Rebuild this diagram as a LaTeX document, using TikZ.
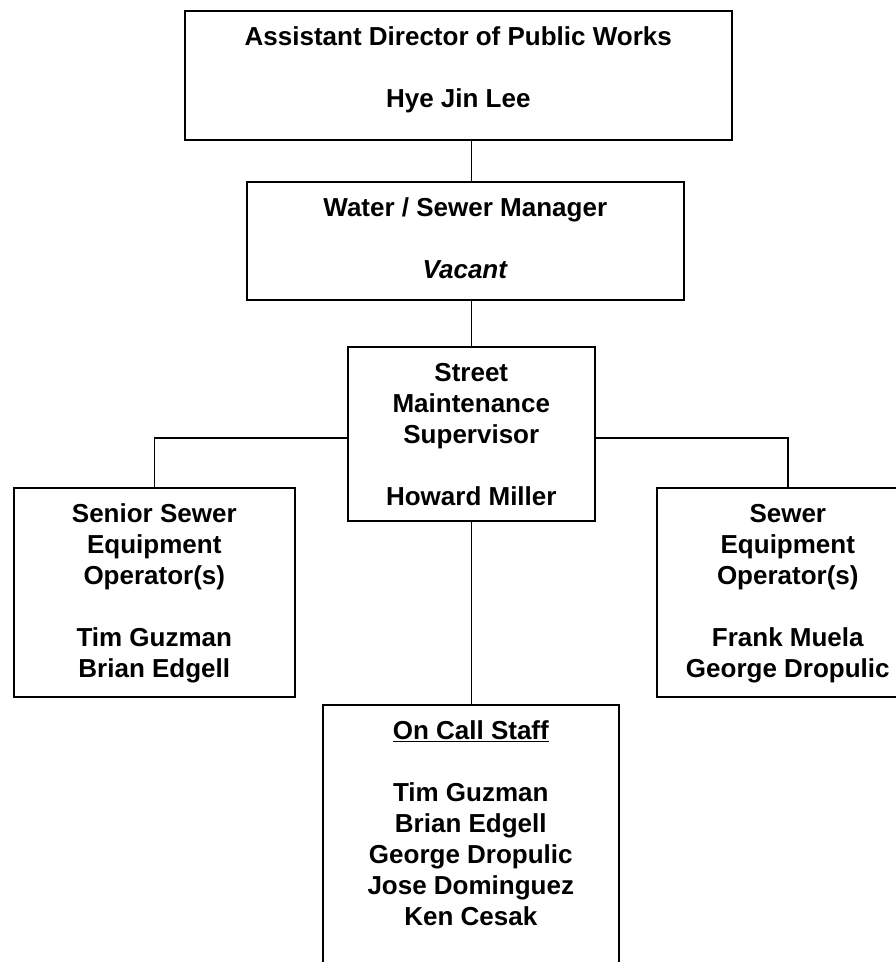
\documentclass[tikz,border=0pt]{standalone}
\usepackage{fontspec}
\setmainfont{Liberation Sans}
\usetikzlibrary{calc}

% Top-aligned, centred text block of a fixed size: #1 width, #2 height, #3 lines
\newcommand{\boxtext}[3]{\parbox[c][#2][t]{#1}{\centering\vspace*{13.3pt}\strut #3}}

\tikzset{
  orgbox/.style={draw=black, line width=1.6pt, inner sep=0pt, anchor=north west,
                 font=\bfseries\fontsize{26}{31}\selectfont},
  link/.style={draw=black, line width=1.5pt},
}

\begin{document}
\begin{tikzpicture}[x=1pt, y=-1pt]
  \useasboundingbox (0,0) rectangle (896,962);
  \fill[white] (0,0) rectangle (896,962);

  % Positions
  \node[orgbox] (dir) at (184,10)
    {\boxtext{547pt}{129pt}{Assistant Director of Public Works\\[31pt]Hye Jin Lee}};
  \node[orgbox] (water) at (246,181)
    {\boxtext{437pt}{118pt}{Water / Sewer Manager\\[31pt]\textit{Vacant}}};
  \node[orgbox] (street) at (347,346)
    {\boxtext{247pt}{174pt}{Street\\Maintenance\\Supervisor\\[31pt]Howard Miller}};
  \node[orgbox] (senior) at (13,487)
    {\boxtext{281pt}{209pt}{Senior Sewer\\Equipment\\Operator(s)\\[31pt]Tim Guzman\\Brian Edgell}};
  \node[orgbox] (sewer) at (656,487)
    {\boxtext{262pt}{209pt}{Sewer\\Equipment\\Operator(s)\\[31pt]Frank Muela\\George Dropulic}};
  \node[orgbox] (oncall) at (322,704)
    {\boxtext{296pt}{300pt}{\underline{On Call Staff}\\[31pt]Tim Guzman\\Brian Edgell\\George Dropulic\\Jose Dominguez\\Ken Cesak}};

  % Reporting lines
  \draw[link] (dir.south -| street.north) -- (water.north -| street.north);
  \draw[link] (water.south -| street.north) -- (street.north);
  \draw[link] (street.south) -- (street.south |- oncall.north);
  \draw[link] ([yshift=-4pt]street.west) -| (senior.north);
  \draw[link] ([yshift=-4pt]street.east) -| (sewer.north);
\end{tikzpicture}
\end{document}
